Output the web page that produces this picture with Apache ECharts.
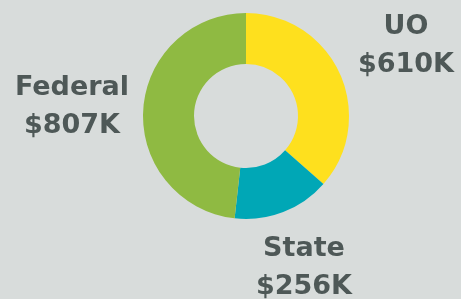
<!DOCTYPE html>
<html>
<head>
<meta charset="utf-8">
<script src="https://cdn.jsdelivr.net/npm/echarts@6/dist/echarts.min.js"></script>
<style>
  html, body { margin: 0; padding: 0; background: #d8dcdb; }
  #chart { width: 461px; height: 299px; }
</style>
</head>
<body>
<div id="chart"></div>
<script>
// funding sources, in thousands of dollars
var sources = ['UO', 'State', 'Federal'];
var amounts = [610, 256, 807];
var colors = ['#fee01e', '#00a7b6', '#8fba42'];

// where each label block sits (centre of the two lines)
var labelSpots = [[406, 46], [304, 268], [72, 107]];

var chart = echarts.init(document.getElementById('chart'));
chart.setOption({
  backgroundColor: '#d8dcdb',
  animation: false,
  series: [{
    type: 'pie',
    center: [246, 116],
    radius: [52, 103],
    startAngle: 90,
    clockwise: true,
    silent: true,
    data: sources.map(function (name, i) {
      return { name: name, value: amounts[i], itemStyle: { color: colors[i] } };
    }),
    itemStyle: { borderWidth: 0 },
    label: {
      show: true,
      position: 'outside',
      formatter: function (p) { return p.name + '\n$' + p.value + 'K'; },
      color: '#4e5857',
      fontFamily: 'DejaVu Sans',
      fontWeight: 'bold',
      fontSize: 27,
      lineHeight: 38,
      align: 'center',
      overflow: 'none'
    },
    labelLine: { show: false },
    labelLayout: function (params) {
      var s = labelSpots[params.dataIndex];
      return { x: s[0], y: s[1], align: 'center', verticalAlign: 'middle' };
    }
  }]
});
</script>
</body>
</html>
